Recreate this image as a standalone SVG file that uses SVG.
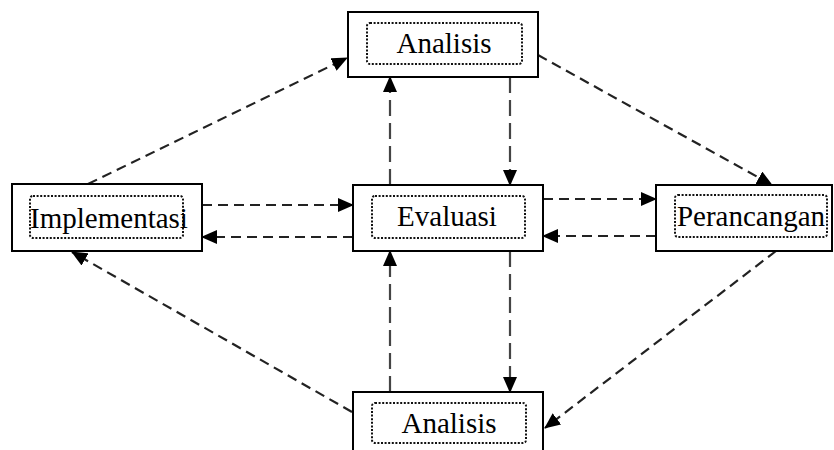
<svg xmlns="http://www.w3.org/2000/svg" width="834" height="450" viewBox="0 0 834 450">
<style>
.box{fill:#fff;stroke:#000;stroke-width:2}
.inner{fill:none;stroke:#111;stroke-width:2;stroke-dasharray:2 1.6}
.lbl{font-family:"Liberation Serif","Times New Roman",serif;font-size:29px;fill:#000;text-anchor:middle}
.c{fill:none;stroke:#222;stroke-width:2.2;stroke-dasharray:10 6}
.v{fill:none;stroke:#444;stroke-width:2.2;stroke-dasharray:16 7}
</style>
<defs>
<marker id="ah" markerUnits="userSpaceOnUse" markerWidth="16" markerHeight="14" refX="15" refY="7" orient="auto" viewBox="0 0 16 14">
<path d="M0,0 L16,7 L0,14 z" fill="#000"/>
</marker>
</defs>
<g id="connectors">
<path class="c" d="M88,184 L347,58" marker-end="url(#ah)"/>
<path class="c" d="M538,55 L772,185" marker-end="url(#ah)"/>
<path class="v" d="M510,77 L510,185" marker-end="url(#ah)"/>
<path class="v" d="M390,185 L390,77" marker-end="url(#ah)"/>
<path class="c" d="M202,205 L353,205" marker-end="url(#ah)"/>
<path class="c" d="M353,237 L202,237" marker-end="url(#ah)"/>
<path class="c" d="M543,199 L656,199" marker-end="url(#ah)"/>
<path class="c" d="M656,236 L543,236" marker-end="url(#ah)"/>
<path class="v" d="M510,251 L510,392" marker-end="url(#ah)"/>
<path class="v" d="M390,392 L390,251" marker-end="url(#ah)"/>
<path class="c" d="M776,251 L545,428" marker-end="url(#ah)"/>
<path class="c" d="M352,412 L72,252" marker-end="url(#ah)"/>
</g>
<g id="analisis-top">
<rect class="box" x="348" y="12" width="190" height="65"/>
<rect class="inner" x="367" y="23" width="155" height="41" rx="3"/>
<text class="lbl" x="444" y="53">Analisis</text>
</g>
<g id="implementasi">
<rect class="box" x="12" y="184" width="190" height="67"/>
<rect class="inner" x="30" y="196" width="153" height="42" rx="3"/>
<text class="lbl" x="109" y="228">Implementasi</text>
</g>
<g id="evaluasi">
<rect class="box" x="353" y="185" width="190" height="66"/>
<rect class="inner" x="372" y="196" width="153" height="42" rx="3"/>
<text class="lbl" x="447" y="226">Evaluasi</text>
</g>
<g id="perancangan">
<rect class="box" x="656" y="185" width="176" height="66"/>
<rect class="inner" x="675" y="195" width="152" height="42" rx="3"/>
<text class="lbl" x="751" y="226">Perancangan</text>
</g>
<g id="analisis-bottom">
<rect class="box" x="353" y="392" width="190" height="70"/>
<rect class="inner" x="372" y="403" width="154" height="40" rx="3"/>
<text class="lbl" x="449" y="433">Analisis</text>
</g>
</svg>
